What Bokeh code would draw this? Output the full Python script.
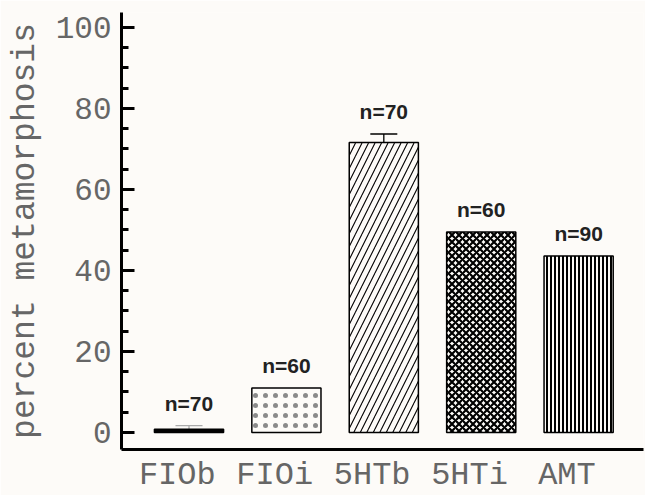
import numpy as np
from bokeh.plotting import figure
from bokeh.models import (ColumnDataSource, Range1d, SingleIntervalTicker, FixedTicker,
                          Whisker, TeeHead)
from bokeh.core.properties import value
from bokeh.embed import file_html
from bokeh.resources import INLINE

categories = ["FIOb", "FIOi", "5HTb", "5HTi", "AMT"]
percent = [0.8, 11.0, 71.6, 49.5, 43.6]
errors = [0.9, 0.0, 2.1, 0.0, 0.0]
n_labels = ["n=70", "n=60", "n=70", "n=60", "n=90"]
hatches = [" ", ".", "/", "x", "|"]

xpos = list(range(len(categories)))
tops = [v + e for v, e in zip(percent, errors)]

BG = "#fdfbf8"
TXT = "#666666"

p = figure(frame_width=522, frame_height=437, output_backend="svg", toolbar_location=None,
           x_range=Range1d(-0.693, 4.666), y_range=Range1d(-4.2, 103.7),
           min_border_left=121, min_border_top=12, min_border_right=2, min_border_bottom=40,
           background_fill_color=BG, border_fill_color=BG)
p.outline_line_color = None
p.grid.visible = False

src = ColumnDataSource(dict(x=xpos, top=percent, up=tops, lab=n_labels, hatch=hatches,
                            fill=["black", None, None, None, None],
                            hcol=["black", "#8a8a8a", "black", "black", "black"],
                            hscale=[10, 10, 13, 7, 4],
                            hweight=[1, 0.5, 1.1, 2.2, 2.0]))

p.vbar(x="x", top="top", bottom=0, width=0.71, source=src,
       fill_color="fill", line_color="black", line_width=1.5,
       hatch_pattern="hatch", hatch_color="hcol", hatch_scale="hscale",
       hatch_weight="hweight")

# error bars
for i, e in enumerate(errors):
    if e <= 0:
        continue
    col = "#aaaaaa" if percent[i] < 5 else "black"
    es = ColumnDataSource(dict(x=[xpos[i]], lo=[percent[i]], hi=[tops[i]]))
    w = Whisker(base="x", lower="lo", upper="hi", source=es, dimension="height",
                line_color=col, line_width=1.3,
                upper_head=TeeHead(size=27, line_color=col, line_width=1.3),
                lower_head=None)
    p.add_layout(w)

p.text(x="x", y="up", text="lab", source=src, y_offset=-11,
       text_align="center", text_baseline="bottom",
       text_font=value("Liberation Sans"), text_font_style="bold",
       text_font_size="21px", text_color="#222222")

# y axis
ya = p.yaxis[0]
ya.ticker = SingleIntervalTicker(interval=20, num_minor_ticks=4)
ya.axis_label = "percent metamorphosis"
ya.axis_label_text_font = "Liberation Mono"
ya.axis_label_text_font_size = "33px"
ya.axis_label_text_font_style = "normal"
ya.axis_label_text_color = TXT
ya.axis_label_standoff = 9
ya.major_label_text_font = "Liberation Mono"
ya.major_label_text_font_size = "31px"
ya.major_label_text_color = TXT
ya.major_label_standoff = 10
ya.axis_line_width = 3
ya.axis_line_color = "black"
ya.major_tick_in = 13
ya.major_tick_out = 0
ya.minor_tick_in = 7
ya.minor_tick_out = 0
ya.major_tick_line_width = 3
ya.minor_tick_line_width = 3

# x axis
xa = p.xaxis[0]
xa.ticker = FixedTicker(ticks=[x - 0.12 for x in xpos])
xa.major_label_overrides = {x - 0.12: c for x, c in zip(xpos, categories)}
xa.major_label_text_font = "Liberation Mono"
xa.major_label_text_font_size = "32px"
xa.major_label_text_color = TXT
xa.major_label_standoff = 7
xa.axis_line_width = 3
xa.axis_line_color = "black"
xa.major_tick_line_color = None
xa.minor_tick_line_color = None
xa.major_tick_in = 0
xa.major_tick_out = 0

open("out.html", "w").write(file_html(p, INLINE))
